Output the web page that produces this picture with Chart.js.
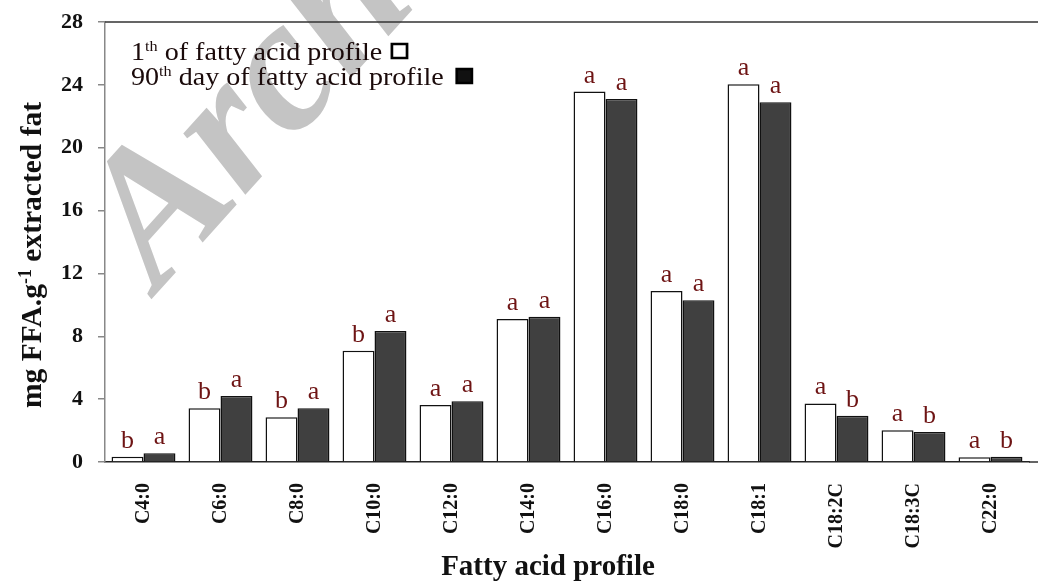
<!DOCTYPE html>
<html>
<head>
<meta charset="utf-8">
<script src="https://cdn.jsdelivr.net/npm/chart.js@4.4.0/dist/chart.umd.min.js"></script>
<style>
  html, body { margin: 0; padding: 0; background: #fff; }
  #wrap { width: 1038px; height: 581px; }
</style>
</head>
<body>
<div id="wrap"><canvas id="grafico"></canvas></div>
<script>
// datos
const categorias = ['C4:0', 'C6:0', 'C8:0', 'C10:0', 'C12:0', 'C14:0', 'C16:0', 'C18:0', 'C18:1', 'C18:2C', 'C18:3C', 'C22:0'];
const dia1 = [0.34, 3.42, 2.85, 7.08, 3.63, 9.1, 23.57, 10.88, 24.04, 3.73, 2.02, 0.3];
const dia90 = [0.55, 4.2, 3.42, 8.34, 3.86, 9.25, 23.1, 10.3, 22.9, 2.95, 1.91, 0.34];
const letras1 = ['b', 'b', 'b', 'b', 'a', 'a', 'a', 'a', 'a', 'a', 'a', 'a'];
const letras90 = ['a', 'a', 'a', 'a', 'a', 'a', 'a', 'a', 'a', 'b', 'b', 'b'];
const ticksY = [0, 4, 8, 12, 16, 20, 24, 28];

const serif = '"Liberation Serif", "Times New Roman", serif';

// texto con superindice: partes [texto, esSup]
function textoSup(ctx, partes, x, y, tam, tamSup, peso) {
    partes.forEach(([t, sup]) => {
        ctx.font = peso + ' ' + (sup ? tamSup : tam) + 'px ' + serif;
        ctx.fillText(t, x, sup ? y - tam * 0.35 : y);
        x += ctx.measureText(t).width;
    });
    return x;
}

// marca de agua, letras de significancia, leyenda, titulos y bordes extra
const extras = {
    id: 'extras',
    beforeDraw(chart) {
        const ctx = chart.ctx;
        ctx.save();
        ctx.translate(158, 292);
        ctx.rotate(-48 * Math.PI / 180);
        ctx.font = 'bold italic 190px ' + serif;
        ctx.fillStyle = '#c4c4c4';
        ctx.textBaseline = 'alphabetic';
        ctx.fillText('Archive of SID', 0, 0);
        ctx.restore();
    },
    afterDatasetsDraw(chart) {
        const ctx = chart.ctx;
        const area = chart.chartArea;
        ctx.save();
        ctx.font = '26px ' + serif;
        ctx.fillStyle = '#6e1414';
        ctx.textAlign = 'center';
        ctx.textBaseline = 'alphabetic';
        [letras1, letras90].forEach((letras, i) => {
            chart.getDatasetMeta(i).data.forEach((bar, j) => {
                ctx.fillText(letras[j], bar.x, bar.y - 9);
            });
        });

        // borde superior y extension del eje x
        ctx.strokeStyle = '#333';
        ctx.lineWidth = 1.5;
        ctx.beginPath();
        ctx.moveTo(area.left, area.top);
        ctx.lineTo(chart.width, area.top);
        ctx.moveTo(area.right, area.bottom);
        ctx.lineTo(chart.width, area.bottom);
        ctx.stroke();

        // leyenda
        const filas = [
            { base: '1', resto: ' of fatty acid profile', relleno: '#fff', gap: 9 },
            { base: '90', resto: ' day of fatty acid profile', relleno: '#111', gap: 12 }
        ];
        ctx.textAlign = 'left';
        filas.forEach((f, k) => {
            ctx.save();
            ctx.translate(131, 60 + k * 25);
            ctx.scale(1.08, 1);
            ctx.fillStyle = '#1a0a0a';
            let x = textoSup(ctx, [[f.base, false], ['th', true], [f.resto, false]], 0, 0, 26, 15, 'normal');
            x += f.gap;
            ctx.fillStyle = f.relleno;
            ctx.fillRect(x, -16, 14, 14);
            ctx.strokeStyle = '#000';
            ctx.lineWidth = 2.5;
            ctx.strokeRect(x, -16, 14, 14);
            ctx.restore();
        });

        // titulo eje y
        ctx.save();
        ctx.translate(41, 255);
        ctx.rotate(-Math.PI / 2);
        ctx.fillStyle = '#111';
        const partesY = [['mg FFA.g', false], ['-1', true], [' extracted fat', false]];
        let largo = 0;
        partesY.forEach(([t, sup]) => {
            ctx.font = 'bold ' + (sup ? 18 : 29.5) + 'px ' + serif;
            largo += ctx.measureText(t).width;
        });
        textoSup(ctx, partesY, -largo / 2, 0, 29.5, 18, 'bold');
        ctx.restore();

        // titulo eje x
        ctx.font = 'bold 29px ' + serif;
        ctx.fillStyle = '#111';
        ctx.textAlign = 'center';
        ctx.fillText('Fatty acid profile', 548, 575);
        ctx.restore();
    }
};

const config = {
    type: 'bar',
    data: {
        labels: categorias,
        datasets: [{
            label: '1th of fatty acid profile',
            data: dia1,
            backgroundColor: '#ffffff',
            borderColor: '#111',
            borderWidth: 1.5,
            categoryPercentage: 0.83,
            barPercentage: 1.0
        }, {
            label: '90th day of fatty acid profile',
            data: dia90,
            backgroundColor: '#404040',
            borderColor: '#111',
            borderWidth: 1.5,
            categoryPercentage: 0.83,
            barPercentage: 1.0
        }]
    },
    options: {
        responsive: true,
        maintainAspectRatio: false,
        animation: false,
        layout: { padding: { left: 0, right: 9, top: 22, bottom: 0 } },
        plugins: {
            legend: { display: false },
            tooltip: { enabled: false }
        },
        scales: {
            x: {
                grid: { display: false, drawTicks: false },
                border: { display: true, color: '#222', width: 1.5 },
                ticks: {
                    minRotation: 90,
                    maxRotation: 90,
                    padding: 21,
                    color: '#111',
                    font: { family: serif, size: 20, weight: 'bold' }
                },
                afterFit(scale) { scale.height = 119; }
            },
            y: {
                min: 0,
                max: 28,
                afterBuildTicks(scale) { scale.ticks = ticksY.map(v => ({ value: v })); },
                grid: { drawOnChartArea: false, drawTicks: true, tickLength: 7, color: '#888', lineWidth: 1.5 },
                border: { display: true, color: '#888', width: 1.5 },
                ticks: {
                    padding: 15,
                    color: '#111',
                    font: { family: serif, size: 22, weight: 'bold' }
                },
                afterFit(scale) {
                    scale.width = 105;
                    scale.paddingTop = 0;
                    scale.paddingBottom = 0;
                }
            }
        }
    },
    plugins: [extras]
};

new Chart(document.getElementById('grafico'), config);
</script>
</body>
</html>
